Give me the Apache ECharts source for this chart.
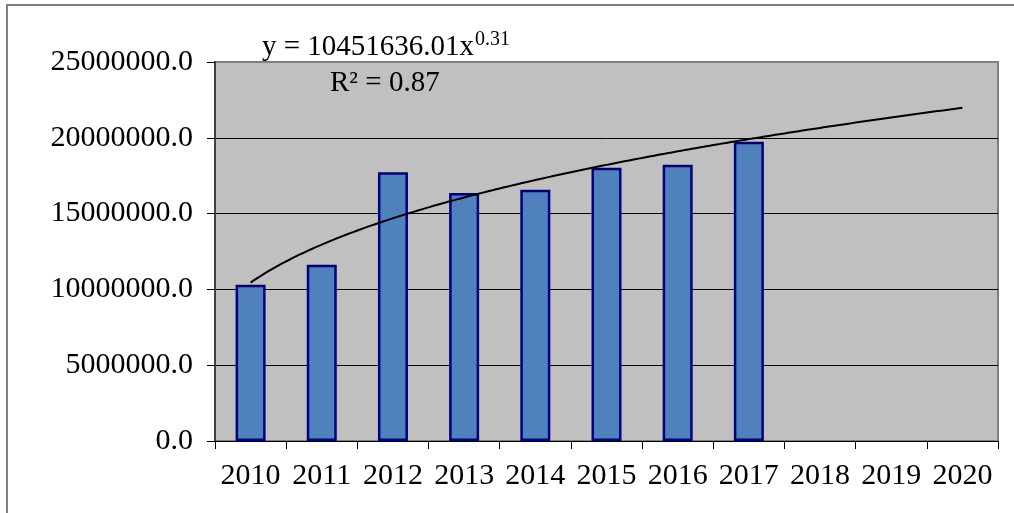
<!DOCTYPE html>
<html>
<head>
<meta charset="utf-8">
<script src="https://cdn.jsdelivr.net/npm/echarts@6/dist/echarts.min.js"></script>
<style>
  html, body { margin: 0; padding: 0; background: #fff; }
  #chart { width: 1014px; height: 513px; }
</style>
</head>
<body>
<div id="chart"></div>
<script>
// Yearly totals, 2010-2017; 2018-2020 are left open for the trend forecast
const years = ['2010', '2011', '2012', '2013', '2014', '2015', '2016', '2017', '2018', '2019', '2020'];
const values = [10300000, 11630000, 17720000, 16360000, 16570000, 18020000, 18220000, 19740000];

// Power trend line y = a * x^b (x = 1 for the first year)
const trendA = 10451636.01;
const trendB = 0.31;
const trendR2 = 0.87;

// y-axis range and step
const yMin = 0;
const yMax = 25000000;
const yStep = 5000000;

const FONT = '"Liberation Serif", "Times New Roman", serif';

// sample the stated power curve across the category span
const trendPoints = [];
for (let i = 0; i <= 200; i++) {
  const x = 1 + (years.length - 1) * i / 200;
  trendPoints.push([x, trendA * Math.pow(x, trendB)]);
}

const chart = echarts.init(document.getElementById('chart'));
chart.setOption({
  animation: false,
  backgroundColor: '#ffffff',
  grid: {
    left: 215, right: 16, top: 62, bottom: 72,
    show: true,
    backgroundColor: '#c0c0c0',
    borderColor: '#808080',
    borderWidth: 2,
    outerBoundsMode: 'none'
  },
  xAxis: [
    {
      type: 'category',
      data: years,
      boundaryGap: true,
      axisLine: { show: true, lineStyle: { color: '#000', width: 1 } },
      axisTick: { show: true, length: 8, inside: false, interval: 0, lineStyle: { color: '#000', width: 1 } },
      axisLabel: { color: '#000', fontFamily: FONT, fontSize: 30, margin: 20, interval: 0, hideOverlap: false },
      splitLine: { show: false }
    },
    {
      type: 'value',
      min: 0.5,
      max: years.length + 0.5,
      show: false
    }
  ],
  yAxis: {
    type: 'value',
    min: yMin,
    max: yMax,
    interval: yStep,
    axisLine: { show: true, lineStyle: { color: '#404040', width: 2 } },
    axisTick: { show: true, length: 8, inside: false, lineStyle: { color: '#000', width: 1 } },
    axisLabel: {
      color: '#000', fontFamily: FONT, fontSize: 30, margin: 22,
      formatter: v => v.toFixed(1)
    },
    splitLine: {
      show: true,
      lineStyle: { color: ['#000', '#000', '#000', '#000', '#000', '#808080'], width: 1 }
    }
  },
  series: [
    {
      type: 'bar',
      xAxisIndex: 0,
      data: values,
      barWidth: 30,
      itemStyle: { color: '#4f81bd', borderColor: '#000080', borderWidth: 2.5 },
      z: 2
    },
    {
      type: 'line',
      xAxisIndex: 1,
      data: trendPoints,
      showSymbol: false,
      smooth: false,
      lineStyle: { color: '#000', width: 2 },
      z: 3
    }
  ],
  graphic: [
    {
      // outer chart frame
      type: 'rect',
      shape: { x: 7, y: 5, width: 1100, height: 600 },
      style: { fill: null, stroke: '#808080', lineWidth: 2 },
      silent: true,
      z: 0
    },
    {
      type: 'text',
      left: 262,
      top: 30,
      style: {
        text: '{m|y = ' + trendA.toFixed(2) + 'x}{s|' + trendB + '}',
        fill: '#000',
        rich: {
          m: { fontFamily: FONT, fontSize: 29, lineHeight: 32, verticalAlign: 'bottom' },
          s: { fontFamily: FONT, fontSize: 20, lineHeight: 32, verticalAlign: 'top', padding: [0, 0, 12, 1] }
        }
      },
      z: 10
    },
    {
      type: 'text',
      left: 330,
      top: 69,
      style: {
        text: 'R² = ' + trendR2.toFixed(2),
        fill: '#000',
        fontFamily: FONT,
        fontSize: 29
      },
      z: 10
    }
  ]
});
</script>
</body>
</html>
